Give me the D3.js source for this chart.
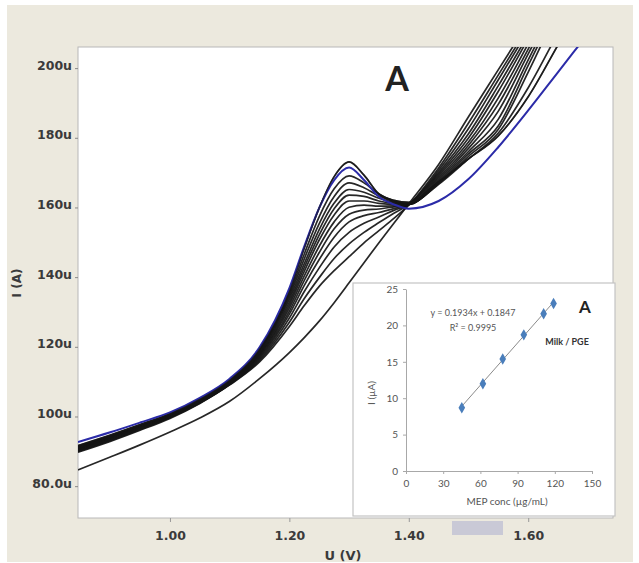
<!DOCTYPE html>
<html>
<head>
<meta charset="utf-8">
<script src="https://cdn.jsdelivr.net/npm/d3@7"></script>
<style>
  html, body { margin: 0; padding: 0; background: #ffffff; }
  svg { display: block; }
</style>
</head>
<body>
<svg id="chart" width="639" height="563"></svg>
<script>
// ---------- main DPV voltammogram data (U in V, I in µA) ----------
const xVolts = [0.846, 0.90, 0.95, 1.00, 1.05, 1.10, 1.15, 1.20, 1.225, 1.25, 1.275, 1.30, 1.325, 1.35, 1.375, 1.40, 1.45, 1.50, 1.55, 1.60, 1.65, 1.70, 1.75];

const blankCurve = [83.8, 87.5, 91.0, 94.7, 98.7, 103.5, 110.0, 117.5, 121.8, 126.5, 131.8, 137.5, 143.3, 149.0, 154.6, 160.2, 171.5, 185.2, 198.7, 212.2, 225.7, 239.2, 253];
const curve1  = [88.9, 92.0, 95.2, 98.6, 102.9, 108.2, 114.8, 125.0, 131.0, 136.5, 141.0, 145.0, 149.0, 152.5, 156.0, 159.8, 170.5, 183.4, 197.2, 211.0, 224.8, 238.6, 252];
const curve2  = [89.1, 92.2, 95.4, 98.8, 103.0, 108.3, 115.2, 126.2, 133.0, 139.0, 144.5, 148.7, 152.0, 154.8, 157.5, 160.0, 169.8, 181.8, 195.8, 210.0, 224.2, 238.4, 252];
const curve3  = [89.3, 92.4, 95.6, 98.9, 103.1, 108.4, 115.6, 127.4, 135.0, 141.8, 147.8, 152.0, 154.6, 156.4, 158.3, 160.0, 169.2, 180.3, 194.1, 208.7, 223.2, 237.8, 252];
const curve4  = [89.5, 92.6, 95.8, 99.0, 103.2, 108.5, 116.0, 128.5, 136.8, 144.2, 150.6, 155.0, 156.8, 157.7, 158.8, 160.0, 168.7, 179.1, 192.5, 207.6, 222.8, 237.9, 253];
const curve5  = [89.7, 92.8, 96.0, 99.1, 103.3, 108.6, 116.4, 129.4, 138.2, 146.2, 153.0, 157.2, 158.4, 158.7, 159.3, 160.0, 168.2, 177.9, 190.6, 206.1, 221.7, 237.2, 253];
const curve6  = [89.8, 92.9, 96.1, 99.2, 103.4, 108.7, 116.7, 130.3, 139.5, 148.0, 155.0, 159.2, 159.8, 159.5, 159.6, 160.0, 167.7, 177.0, 188.8, 204.6, 220.4, 236.0, 252];
const curve7  = [90.0, 93.1, 96.3, 99.4, 103.6, 108.9, 117.0, 131.2, 140.8, 149.8, 157.0, 161.0, 161.0, 160.3, 160.0, 160.0, 167.2, 176.1, 186.8, 203.2, 219.7, 236.2, 252];
const curve8  = [90.1, 93.2, 96.4, 99.5, 103.7, 109.0, 117.3, 132.0, 141.9, 151.3, 158.8, 162.7, 162.3, 161.0, 160.3, 160.1, 166.8, 175.2, 184.5, 201.5, 218.5, 235.5, 252];
const curve9  = [90.3, 93.4, 96.5, 99.6, 103.8, 109.2, 117.6, 132.8, 143.0, 152.8, 160.4, 164.3, 163.5, 161.8, 160.6, 160.1, 166.4, 174.5, 182.6, 199.9, 217.4, 234.9, 252];
const curve10 = [90.4, 93.5, 96.6, 99.7, 103.9, 109.3, 117.9, 133.6, 144.4, 154.5, 162.3, 166.2, 164.8, 162.4, 160.8, 160.2, 166.0, 173.8, 181.6, 198.0, 216.1, 234.2, 252];
const curve11 = [90.6, 93.6, 96.7, 99.8, 104.0, 109.4, 118.2, 134.3, 145.8, 156.5, 164.5, 168.2, 166.2, 163.0, 161.0, 160.3, 165.8, 173.1, 180.5, 193.5, 209.3, 225.1, 241];
const curve12 = [90.8, 93.8, 96.8, 99.9, 104.1, 109.6, 118.5, 135.0, 147.5, 159.0, 168.0, 172.2, 168.4, 163.0, 161.2, 160.6, 166.4, 173.1, 179.7, 190.9, 205.8, 220.7, 235.6];
const blueCurve = [91.8, 94.6, 97.4, 100.3, 104.5, 110.0, 119.0, 136.0, 148.0, 159.0, 167.0, 170.6, 167.0, 162.2, 160.0, 158.8, 161.0, 167.3, 176.5, 187.0, 198.0, 209.0, 220.0];

const blackCurves = [blankCurve, curve1, curve2, curve3, curve4, curve5, curve6, curve7, curve8, curve9, curve10, curve11, curve12];

const yTickValues = [80, 100, 120, 140, 160, 180, 200];
const yTickLabels = ["80.0u", "100u", "120u", "140u", "160u", "180u", "200u"];
const xTickValues = [1.00, 1.20, 1.40, 1.60];
const xTickLabels = ["1.00", "1.20", "1.40", "1.60"];

// ---------- inset calibration data ----------
const concX = [45, 62, 78, 95, 111, 119];
const concI = [8.7, 12.0, 15.4, 18.7, 21.6, 23.0];
const insetXTicks = [0, 30, 60, 90, 120, 150];
const insetYTicks = [0, 5, 10, 15, 20, 25];
const fitSlope = 0.1934;
const fitIntercept = 0.1847;
const fitRange = [45, 119];

// ---------- drawing ----------
const svg = d3.select("#chart");

svg.append("rect").attr("x", 0).attr("y", 0).attr("width", 639).attr("height", 563).attr("fill", "#ffffff");
svg.append("rect").attr("x", 7).attr("y", 5).attr("width", 626).attr("height", 557).attr("fill", "#ECE9DE");

const plot = { left: 78, top: 47, right: 613, bottom: 518 };

svg.append("rect")
  .attr("x", plot.left).attr("y", plot.top)
  .attr("width", plot.right - plot.left).attr("height", plot.bottom - plot.top)
  .attr("fill", "#ffffff").attr("stroke", "#b8b8b8").attr("stroke-width", 1);

const x = d3.scaleLinear().domain([0.846, 1.742]).range([plot.left, plot.right]);
const y = d3.scaleLinear().domain([70.0, 205.2]).range([plot.bottom, plot.top]);

svg.append("clipPath").attr("id", "plotClip")
  .append("rect").attr("x", plot.left).attr("y", plot.top)
  .attr("width", plot.right - plot.left).attr("height", plot.bottom - plot.top);

const line = d3.line()
  .x((d, i) => x(xVolts[i]))
  .y(d => y(d))
  .curve(d3.curveMonotoneX);

const curvesG = svg.append("g").attr("clip-path", "url(#plotClip)");
curvesG.selectAll("path.black")
  .data(blackCurves)
  .join("path")
  .attr("class", "black")
  .attr("d", d => line(d))
  .attr("fill", "none")
  .attr("stroke", "#151515")
  .attr("stroke-width", 1.7)
  .attr("stroke-opacity", 0.92);

curvesG.append("path")
  .attr("d", line(blueCurve))
  .attr("fill", "none")
  .attr("stroke", "#2b2ba8")
  .attr("stroke-width", 2);

// the top black peak curve lies partly over the blue one
curvesG.append("path")
  .attr("d", line(curve12))
  .attr("fill", "none")
  .attr("stroke", "#151515")
  .attr("stroke-width", 1.5)
  .attr("stroke-opacity", 0.6);

// Y axis
const yAxis = d3.axisLeft(y).tickValues(yTickValues).tickSize(3).tickPadding(3)
  .tickFormat((d, i) => yTickLabels[i]);
const yg = svg.append("g").attr("transform", `translate(${plot.left},0)`).call(yAxis);
yg.select(".domain").remove();
yg.selectAll(".tick line").attr("stroke", "#888").attr("transform", "translate(0,3)");
yg.selectAll(".tick text")
  .attr("font-family", "DejaVu Sans, Verdana, sans-serif")
  .attr("font-weight", "bold")
  .attr("font-size", 12.5)
  .attr("fill", "#3a3a3a");

// X axis
const xAxis = d3.axisBottom(x).tickValues(xTickValues).tickSize(4).tickPadding(9)
  .tickFormat((d, i) => xTickLabels[i]);
const xg = svg.append("g").attr("transform", `translate(0,${plot.bottom})`).call(xAxis);
xg.select(".domain").remove();
xg.selectAll(".tick line").attr("stroke", "#999");
xg.selectAll(".tick text")
  .attr("font-family", "DejaVu Sans, Verdana, sans-serif")
  .attr("font-weight", "bold")
  .attr("font-size", 12.5)
  .attr("fill", "#3a3a3a");

// axis titles
svg.append("text").text("U (V)")
  .attr("x", 343).attr("y", 560)
  .attr("text-anchor", "middle")
  .attr("font-family", "DejaVu Sans, Verdana, sans-serif")
  .attr("font-weight", "bold").attr("font-size", 13).attr("fill", "#3a3a3a");

svg.append("text").text("I (A)")
  .attr("transform", "translate(21,283) rotate(-90)")
  .attr("text-anchor", "middle")
  .attr("font-family", "DejaVu Sans, Verdana, sans-serif")
  .attr("font-weight", "bold").attr("font-size", 12).attr("fill", "#3a3a3a");

// panel letter
svg.append("text").text("A")
  .attr("x", 397).attr("y", 91)
  .attr("text-anchor", "middle")
  .attr("font-family", "Lato, 'Open Sans', sans-serif")
  .attr("font-weight", "bold").attr("font-size", 34).attr("fill", "#222");

// little gray scroll bar under the inset
svg.append("rect")
  .attr("x", 452).attr("y", 521).attr("width", 51).attr("height", 14)
  .attr("fill", "#c9c9d6");

// ---------- inset ----------
const inset = svg.append("g");
inset.append("rect")
  .attr("x", 353).attr("y", 283).attr("width", 262).attr("height", 233)
  .attr("fill", "#ffffff").attr("stroke", "#c4c4c4").attr("stroke-width", 1.2);

const ix = d3.scaleLinear().domain([0, 150]).range([406, 592]);
const iy = d3.scaleLinear().domain([0, 25]).range([471, 289]);

const ixAxis = d3.axisBottom(ix).tickValues(insetXTicks).tickSize(3).tickPadding(6).tickSizeOuter(0);
const ixg = inset.append("g").attr("transform", "translate(0,471)").call(ixAxis);
const iyAxis = d3.axisLeft(iy).tickValues(insetYTicks).tickSize(3).tickPadding(5).tickSizeOuter(0);
const iyg = inset.append("g").attr("transform", "translate(406,0)").call(iyAxis);

[ixg, iyg].forEach(g => {
  g.select(".domain").attr("stroke", "#a8a8a8");
  g.selectAll(".tick line").attr("stroke", "#a8a8a8");
  g.selectAll(".tick text")
    .attr("font-family", "Lato, 'Open Sans', sans-serif")
    .attr("font-size", 10).attr("fill", "#555");
});

inset.append("text").text("MEP conc (µg/mL)")
  .attr("x", 507).attr("y", 505)
  .attr("text-anchor", "middle")
  .attr("font-family", "Lato, 'Open Sans', sans-serif")
  .attr("font-size", 10).attr("fill", "#555");

inset.append("text").text("I (µA)")
  .attr("transform", "translate(375,393) rotate(-90)")
  .attr("text-anchor", "middle")
  .attr("font-family", "Lato, 'Open Sans', sans-serif")
  .attr("font-size", 10).attr("fill", "#555");

// fit line
inset.append("line")
  .attr("x1", ix(fitRange[0])).attr("y1", iy(fitSlope * fitRange[0] + fitIntercept))
  .attr("x2", ix(fitRange[1])).attr("y2", iy(fitSlope * fitRange[1] + fitIntercept))
  .attr("stroke", "#8a8a8a").attr("stroke-width", 1);

// markers (diamonds)
inset.selectAll("path.pt")
  .data(concX)
  .join("path")
  .attr("class", "pt")
  .attr("d", d3.symbol().type(d3.symbolDiamond).size(38))
  .attr("transform", (d, i) => `translate(${ix(d)},${iy(concI[i])})`)
  .attr("fill", "#4a7ebb");

inset.append("text").text("y = 0.1934x + 0.1847")
  .attr("x", 473).attr("y", 316)
  .attr("text-anchor", "middle")
  .attr("font-family", "Lato, 'Open Sans', sans-serif")
  .attr("font-size", 9).attr("fill", "#555");

inset.append("text")
  .attr("x", 473).attr("y", 331)
  .attr("text-anchor", "middle")
  .attr("font-family", "Lato, 'Open Sans', sans-serif")
  .attr("font-size", 9).attr("fill", "#555")
  .text("R² = 0.9995");

inset.append("text").text("Milk / PGE")
  .attr("x", 567).attr("y", 345)
  .attr("text-anchor", "middle")
  .attr("font-family", "Lato, 'Open Sans', sans-serif")
  .attr("font-weight", "bold")
  .attr("font-size", 9).attr("fill", "#333");

inset.append("text").text("A")
  .attr("x", 585).attr("y", 313)
  .attr("text-anchor", "middle")
  .attr("font-family", "Lato, 'Open Sans', sans-serif")
  .attr("font-weight", "bold")
  .attr("font-size", 17).attr("fill", "#222");
</script>
</body>
</html>
